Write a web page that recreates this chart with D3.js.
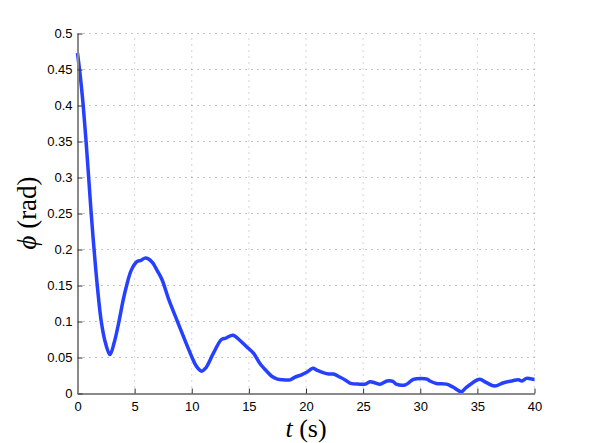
<!DOCTYPE html>
<html><head><meta charset="utf-8">
<script src="https://cdn.jsdelivr.net/npm/d3@7"></script>
<style>body{margin:0;background:#fff}</style>
</head><body>
<svg id="c" width="589" height="443"></svg>
<script>
const timeS = [0,0.25,0.5,0.75,1.0,1.2,1.45,1.73,2.08,2.45,2.84,3.2,3.63,4.0,4.3,4.7,5.2,5.55,5.9,6.2,6.55,7.0,7.4,8.0,8.7,9.4,10.0,10.4,10.87,11.2,11.9,12.6,13.0,13.6,14.2,14.8,15.4,16.0,16.5,17.0,17.5,18.0,18.6,19.0,19.6,20.1,20.6,21.0,21.5,22.0,22.4,23.0,23.5,23.9,24.7,25.2,25.6,26.0,26.5,27.1,27.6,27.9,28.7,29.4,30.1,30.6,30.85,31.4,32.3,32.9,33.6,34.0,34.5,35.2,35.8,36.5,37.3,38.1,38.6,38.9,39.3,39.9,40];
const phiRad = [0.473,0.44,0.40,0.35,0.295,0.25,0.20,0.15,0.10,0.07,0.054,0.07,0.10,0.13,0.15,0.171,0.183,0.185,0.188,0.187,0.182,0.17,0.158,0.13,0.102,0.074,0.051,0.038,0.031,0.035,0.056,0.075,0.077,0.081,0.074,0.065,0.056,0.041,0.032,0.024,0.020,0.019,0.019,0.0225,0.026,0.030,0.035,0.032,0.029,0.027,0.027,0.0225,0.018,0.014,0.013,0.013,0.0164,0.015,0.013,0.0174,0.017,0.013,0.012,0.0197,0.021,0.020,0.0174,0.014,0.013,0.0086,0.0025,0.008,0.014,0.0197,0.015,0.0104,0.015,0.0178,0.019,0.0174,0.021,0.0197,0.0195];
const xTicks = [0,5,10,15,20,25,30,35,40];
const yTicks = [0,0.05,0.1,0.15,0.2,0.25,0.3,0.35,0.4,0.45,0.5];

const L=77.5, R=534.5, T=33.5, B=393.5;
const svg = d3.select("#c");
const x = d3.scaleLinear().domain([0,40]).range([L,R]);
const y = d3.scaleLinear().domain([0,0.5]).range([B,T]);

// grid
const g = svg.append("g");
g.selectAll(".gx").data(xTicks.slice(1)).enter().append("line")
 .attr("x1",d=>x(d)).attr("x2",d=>x(d)).attr("y1",B).attr("y2",T)
 .attr("stroke","#aaa").attr("stroke-width",1).attr("stroke-dasharray","1,5");
g.selectAll(".gy").data(yTicks.slice(1)).enter().append("line")
 .attr("x1",L).attr("x2",R).attr("y1",d=>y(d)).attr("y2",d=>y(d))
 .attr("stroke","#888").attr("stroke-width",1).attr("stroke-dasharray","1,5");

// curve
const pts = timeS.map((t,i)=>[t,phiRad[i]]);
svg.append("path").datum(pts)
 .attr("d", d3.line().x(d=>x(d[0])).y(d=>y(d[1])).curve(d3.curveCatmullRom.alpha(0.5)))
 .attr("fill","none").attr("stroke","#2540ff").attr("stroke-width",3.5).attr("stroke-linejoin","round");

// axes
const fmt = d => String(+d.toFixed(2));
const ax = svg.append("g").attr("transform",`translate(0,${B})`)
 .call(d3.axisBottom(x).tickValues(xTicks).tickFormat(fmt).tickSizeInner(-5).tickSizeOuter(0).tickPadding(8));
const ay = svg.append("g").attr("transform",`translate(${L},0)`)
 .call(d3.axisLeft(y).tickValues(yTicks).tickFormat(fmt).tickSizeInner(-5).tickSizeOuter(0).tickPadding(5));
[ax,ay].forEach(a=>{
  a.select(".domain").attr("stroke","#8a8a8a").attr("stroke-width",2);
  a.selectAll(".tick line").attr("stroke","#333").attr("stroke-width",1);
  a.selectAll(".tick text").attr("font-family","Liberation Sans, Arial, sans-serif").attr("font-size",13).attr("fill","#000");
});

// labels
svg.append("text").attr("x",306).attr("y",437).attr("text-anchor","middle")
 .attr("font-family","Liberation Serif, Times New Roman, serif").attr("font-size",26)
 .html('<tspan font-style="italic">t</tspan> (s)');
svg.append("text").attr("transform","translate(36,213) rotate(-90)").attr("text-anchor","middle")
 .attr("font-family","Liberation Serif, Times New Roman, serif").attr("font-size",27)
 .html('<tspan font-style="italic">ϕ</tspan> (rad)');
</script>
</body></html>
